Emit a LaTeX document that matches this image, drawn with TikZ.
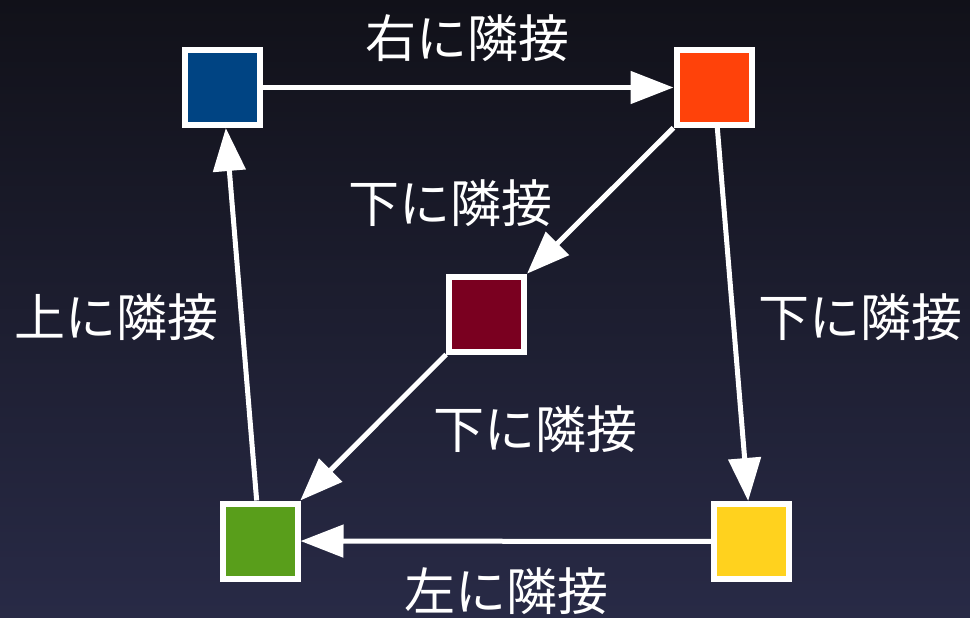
\documentclass[tikz,border=0pt]{standalone}
\usepackage{fontspec}
\setmainfont{Noto Sans CJK JP}
\usetikzlibrary{arrows.meta}
\definecolor{bgtop}{HTML}{111119}
\definecolor{bgbot}{HTML}{282A46}
\definecolor{cblue}{HTML}{004483}
\definecolor{corange}{HTML}{FF420A}
\definecolor{cred}{HTML}{7A0020}
\definecolor{cgreen}{HTML}{599E1B}
\definecolor{cyellow}{HTML}{FFD21E}
\tikzset{
  sq/.style={draw=white, line width=6pt, rectangle, minimum size=75pt, inner sep=0pt},
  conn/.style={draw=white, line width=5pt, -{Triangle[length=43pt,width=32pt]}, shorten >=0pt},
  lbl/.style={text=white, font=\fontsize{51}{51}\selectfont, inner sep=0pt}
}
\begin{document}
\begin{tikzpicture}[x=1pt,y=-1pt]
\shade[top color=bgtop, bottom color=bgbot] (0,0) rectangle (970,618);
\useasboundingbox (0,0) rectangle (970,618);
\node[sq, fill=cblue] (blue) at (222.5,87.5) {};
\node[sq, fill=corange] (orange) at (714,87.5) {};
\node[sq, fill=cred] (red) at (486.5,314) {};
\node[sq, fill=cgreen] (green) at (260,541) {};
\node[sq, fill=cyellow] (yellow) at (751.5,541.5) {};
\draw[conn] (blue) -- (orange);
\draw[conn] (orange) -- (red);
\draw[conn] (orange) -- (yellow);
\draw[conn] (red) -- (green);
\draw[conn] (yellow) -- (green);
\draw[conn] (green) -- (blue);
\node[lbl] (l1) at (467.5,38) {右に隣接};
\node[lbl] (l2) at (450,203) {下に隣接};
\node[lbl] (l3) at (116.5,317) {上に隣接};
\node[lbl] (l4) at (860,317) {下に隣接};
\node[lbl] (l5) at (535.5,429) {下に隣接};
\node[lbl] (l6) at (506.5,591) {左に隣接};
\end{tikzpicture}
\end{document}
